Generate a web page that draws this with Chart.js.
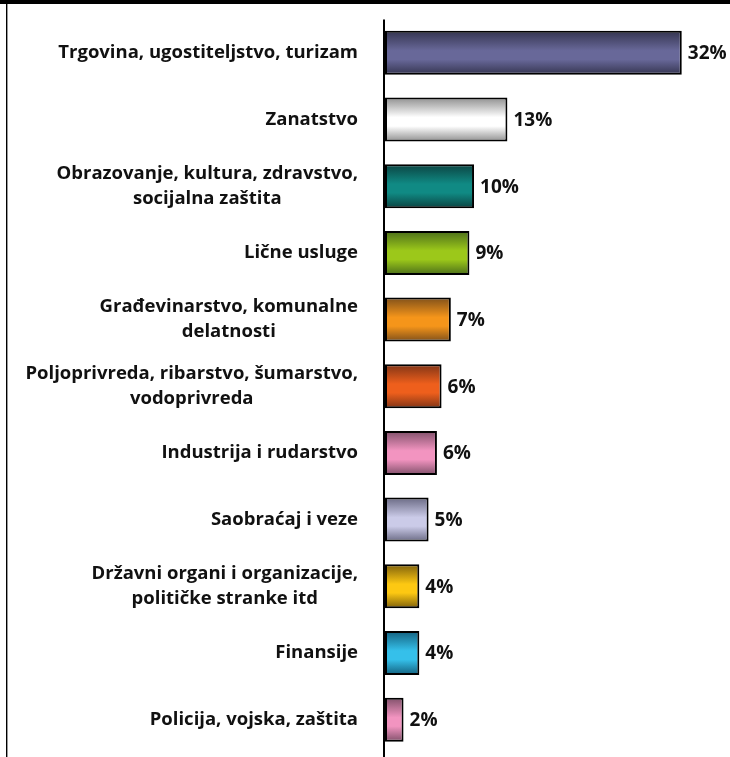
<!DOCTYPE html>
<html>
<head>
<meta charset="utf-8">
<script src="https://cdn.jsdelivr.net/npm/chart.js@4/dist/chart.umd.min.js"></script>
<style>
    html, body { margin: 0; padding: 0; background: #fff; }
    #wrap { position: relative; width: 730px; height: 757px; overflow: hidden; }
    #topband { position: absolute; left: 0; top: 0; width: 730px; height: 4px; background: #000; }
    #leftline { position: absolute; left: 6px; top: 4px; width: 1px; height: 753px; background: #000; border-right: 1px solid #999; }
    canvas { position: absolute; left: 0; top: 0; }
</style>
</head>
<body>
<div id="wrap">
    <canvas id="chart" width="730" height="757"></canvas>
    <div id="topband"></div>
    <div id="leftline"></div>
</div>
<script>
const categories = [
    'Trgovina, ugostiteljstvo, turizam',
    'Zanatstvo',
    ['Obrazovanje, kultura, zdravstvo,', 'socijalna zaštita'],
    'Lične usluge',
    ['Građevinarstvo, komunalne', 'delatnosti'],
    ['Poljoprivreda, ribarstvo, šumarstvo,', 'vodoprivreda'],
    'Industrija i rudarstvo',
    'Saobraćaj i veze',
    ['Državni organi i organizacije,', 'političke stranke itd'],
    'Finansije',
    'Policija, vojska, zaštita'
];
const shares = [32, 13.2, 9.6, 9.1, 7.1, 6.1, 5.6, 4.7, 3.7, 3.7, 2.0];
const midColors = ['#686899', '#ffffff', '#108a84', '#9cc81a', '#f5951a', '#ee5f1c', '#f294c0', '#cbcbe8', '#fdc812', '#35c0ea', '#f294c0'];
const edgeColors = ['#34344f', '#8f8f8f', '#0b4341', '#4b6e1a', '#80501a', '#803416', '#80506a', '#6a6a84', '#7e600c', '#13607e', '#80506a'];

const FONT = '"Open Sans", "Noto Sans", sans-serif';

function barGradient(context) {
    const chart = context.chart;
    const area = chart.chartArea;
    const i = context.dataIndex;
    if (!area || i === undefined) return midColors[0];
    const y = chart.scales.y.getPixelForValue(i);
    const half = (area.bottom - area.top) / categories.length * 0.66 / 2;
    const g = chart.ctx.createLinearGradient(0, y - half, 0, y + half);
    g.addColorStop(0, edgeColors[i]);
    g.addColorStop(0.45, midColors[i]);
    g.addColorStop(0.65, midColors[i]);
    g.addColorStop(1, edgeColors[i]);
    return g;
}

// etikete kategorija i vrednosti
const labelsPlugin = {
    id: 'labels',
    afterDraw(chart) {
        const ctx = chart.ctx;
        const yScale = chart.scales.y;
        const xScale = chart.scales.x;
        const area = chart.chartArea;

        // osa
        const x0 = xScale.getPixelForValue(0);
        ctx.save();
        ctx.strokeStyle = '#000';
        ctx.lineWidth = 2;
        ctx.beginPath();
        ctx.moveTo(x0 - 1, area.top);
        ctx.lineTo(x0 - 1, chart.height);
        ctx.stroke();

        ctx.fillStyle = '#111';
        ctx.font = 'bold 18.5px ' + FONT;
        ctx.textBaseline = 'middle';

        categories.forEach((cat, i) => {
            const lines = Array.isArray(cat) ? cat : [cat];
            const yc = yScale.getPixelForValue(i);
            const right = 358;
            const w = Math.max(...lines.map(l => ctx.measureText(l).width));
            const cx = right - w / 2;
            ctx.textAlign = 'center';
            lines.forEach((l, k) => {
                ctx.fillText(l, cx, yc + (k - (lines.length - 1) / 2) * 25);
            });
        });

        const meta = chart.getDatasetMeta(0);
        ctx.font = 'bold 19px ' + FONT;
        ctx.textAlign = 'left';
        meta.data.forEach((bar, i) => {
            ctx.fillText(Math.round(shares[i]) + '%', bar.x + 6, bar.y + 1);
        });
        ctx.restore();
    }
};

new Chart(document.getElementById('chart'), {
    type: 'bar',
    data: {
        labels: categories,
        datasets: [{
            data: shares,
            backgroundColor: barGradient,
            borderColor: '#000',
            borderWidth: 2,
            borderSkipped: false,
            categoryPercentage: 1,
            barPercentage: 0.66
        }]
    },
    options: {
        indexAxis: 'y',
        responsive: false,
        animation: false,
        layout: { padding: { top: 19.5, bottom: 4, left: 0, right: 0 } },
        plugins: {
            legend: { display: false },
            tooltip: { enabled: false }
        },
        scales: {
            x: {
                display: false,
                min: 0,
                max: 37.2
            },
            y: {
                grid: { display: false, drawTicks: false },
                border: { display: false },
                ticks: { display: false },
                afterFit(scale) { scale.width = 385; }
            }
        }
    },
    plugins: [labelsPlugin]
});
</script>
</body>
</html>
